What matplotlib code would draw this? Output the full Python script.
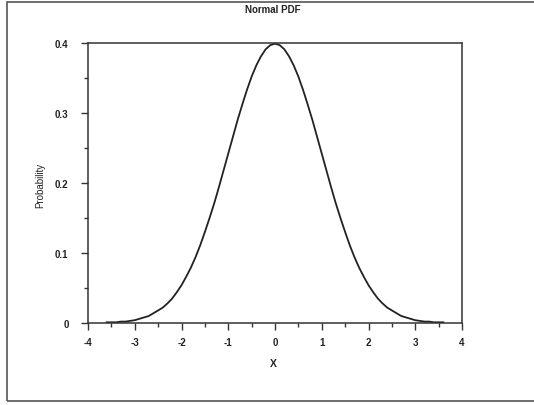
import matplotlib
matplotlib.use("Agg")
import matplotlib.pyplot as plt
from matplotlib.patches import Rectangle
from matplotlib.ticker import MultipleLocator

x_vals = [-3.6, -3.5, -3.4, -3.3, -3.2, -3.1, -3.0, -2.9, -2.8, -2.7, -2.6, -2.5,
          -2.4, -2.3, -2.2, -2.1, -2.0, -1.9, -1.8, -1.7, -1.6, -1.5, -1.4, -1.3,
          -1.2, -1.1, -1.0, -0.9, -0.8, -0.7, -0.6, -0.5, -0.4, -0.3, -0.2, -0.1,
          0.0, 0.1, 0.2, 0.3, 0.4, 0.5, 0.6, 0.7, 0.8, 0.9, 1.0, 1.1, 1.2, 1.3,
          1.4, 1.5, 1.6, 1.7, 1.8, 1.9, 2.0, 2.1, 2.2, 2.3, 2.4, 2.5, 2.6, 2.7,
          2.8, 2.9, 3.0, 3.1, 3.2, 3.3, 3.4, 3.5, 3.6]
prob_vals = [0.001, 0.001, 0.001, 0.002, 0.002, 0.003, 0.004, 0.006, 0.008, 0.010, 0.014, 0.018,
             0.022, 0.028, 0.035, 0.044, 0.054, 0.066, 0.079, 0.094, 0.111, 0.130, 0.150, 0.171,
             0.194, 0.218, 0.242, 0.266, 0.290, 0.312, 0.333, 0.352, 0.368, 0.381, 0.391, 0.397,
             0.399, 0.397, 0.391, 0.381, 0.368, 0.352, 0.333, 0.312, 0.290, 0.266, 0.242, 0.218, 0.194, 0.171,
             0.150, 0.130, 0.111, 0.094, 0.079, 0.066, 0.054, 0.044, 0.035, 0.028, 0.022, 0.018, 0.014, 0.010,
             0.008, 0.006, 0.004, 0.003, 0.002, 0.002, 0.001, 0.001, 0.001]
x_ticks = [-4, -3, -2, -1, 0, 1, 2, 3, 4]
y_ticks = [0, 0.1, 0.2, 0.3, 0.4]
y_tick_labels = ["0", "0.1", "0.2", "0.3", "0.4"]

plt.rcParams['font.family'] = ['Liberation Sans', 'DejaVu Sans']

fig = plt.figure(figsize=(5.34, 4.06), dpi=100)
fig.patches.append(Rectangle((7/534, 4/406), 540/534, 399/406, transform=fig.transFigure,
                             fill=False, edgecolor='#555555', linewidth=1.2))

ax = fig.add_axes([88/534, 1-324/406, 374/534, 280/406])
ax.plot(x_vals, prob_vals, color='#222222', linewidth=1.3)
ax.set_xlim(-4, 4)
ax.set_ylim(0, 0.4)
ax.set_xticks(x_ticks)
ax.set_xticklabels([str(t) for t in x_ticks])
ax.set_yticks(y_ticks)
ax.set_yticklabels(y_tick_labels)
ax.xaxis.set_minor_locator(MultipleLocator(0.5))
ax.yaxis.set_minor_locator(MultipleLocator(0.05))
ax.tick_params(which='major', length=5, width=1, direction='out', labelsize=7,
               color='#333333', labelcolor='#222222')
ax.tick_params(axis='y', which='major', pad=9)
ax.tick_params(axis='x', which='major', pad=5)
ax.tick_params(which='minor', length=3, width=1, direction='out', color='#333333')
for lbl in ax.get_xticklabels() + ax.get_yticklabels():
    lbl.set_fontweight('bold')
for s in ax.spines.values():
    s.set_color('#333333')
    s.set_linewidth(1.1)

fig.text(273/534, 1-10/406, "Normal PDF", ha='center', va='center', fontsize=7, fontweight='bold', color='#222222')
fig.text(40/534, 1-185/406, "Probability", ha='center', va='center', rotation=90, fontsize=7, color='#222222')
fig.text(273/534, 1-364/406, "X", ha='center', va='center', fontsize=7.5, fontweight='bold', color='#222222')

fig.savefig("out.png", dpi=100)
